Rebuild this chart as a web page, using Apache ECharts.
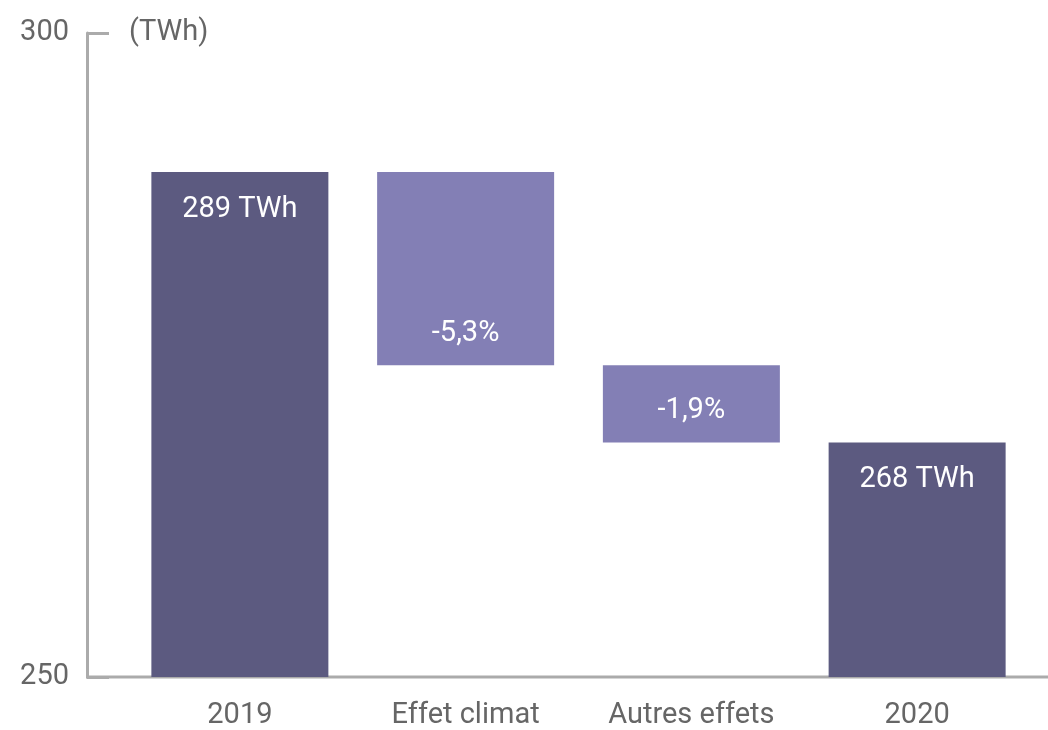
<!DOCTYPE html>
<html>
<head>
<meta charset="utf-8">
<script src="https://cdn.jsdelivr.net/npm/echarts@6/dist/echarts.min.js"></script>
<style>
  html, body { margin: 0; padding: 0; background: #fff; }
  #chart { width: 1048px; height: 730px; }
</style>
</head>
<body>
<div id="chart"></div>
<script>
// waterfall 2019 -> 2020 (TWh)
const categories = ['2019', 'Effet climat', 'Autres effets', '2020']
const totalValues = [289.2, null, null, 268.2]
const stepTops = [null, 289.2, 274.2, null]
const stepBottoms = [null, 274.2, 268.2, null]
const labelTexts = ['289 TWh', '-5,3%', '-1,9%', '268 TWh']
const yTicks = [250, 300]

const darkColor = '#5c5a80'
const lightColor = '#837fb5'
const textFont = { fontSize: 29, fontFamily: 'Roboto' }

const baseData = categories.map((c, i) => totalValues[i] != null ? 0 : stepBottoms[i])
const barData = categories.map((c, i) => {
  if (totalValues[i] != null) {
    return { value: totalValues[i], itemStyle: { color: darkColor }, label: { position: 'insideTop', distance: 23 } }
  }
  return { value: stepTops[i] - stepBottoms[i], itemStyle: { color: lightColor }, label: { position: 'insideBottom', distance: 17 } }
})

const chart = echarts.init(document.getElementById('chart'))
chart.setOption({
  animation: false,
  grid: { left: 127, right: 18, top: 33, bottom: 53, outerBoundsMode: 'none', containLabel: false },
  graphic: [{
    type: 'line',
    z: 0,
    shape: { x1: 86, y1: 677, x2: 1048, y2: 677 },
    style: { stroke: '#ababab', lineWidth: 3 }
  }],
  xAxis: {
    type: 'category',
    data: categories,
    axisLine: { show: false },
    axisTick: { show: false },
    axisLabel: { color: '#666', ...textFont, margin: 24 }
  },
  yAxis: {
    type: 'value',
    min: yTicks[0],
    max: yTicks[1],
    interval: 50,
    offset: 40,
    name: '(TWh)',
    nameLocation: 'end',
    nameGap: 0,
    nameTextStyle: { color: '#666', ...textFont, align: 'left', verticalAlign: 'middle', padding: [0, 0, 0, 42] },
    splitLine: { show: false },
    axisLine: { show: true, lineStyle: { color: '#ababab', width: 3 } },
    axisTick: { show: true, inside: true, length: 22, lineStyle: { color: '#ababab', width: 3 } },
    axisLabel: { color: '#666', ...textFont, margin: 18 }
  },
  series: [
    {
      type: 'bar',
      stack: 'wf',
      barWidth: 177,
      itemStyle: { color: 'transparent' },
      data: baseData,
      silent: true
    },
    {
      type: 'bar',
      stack: 'wf',
      barWidth: 177,
      data: barData,
      label: {
        show: true,
        color: '#fff',
        ...textFont,
        formatter: p => labelTexts[p.dataIndex]
      }
    }
  ]
})
</script>
</body>
</html>
